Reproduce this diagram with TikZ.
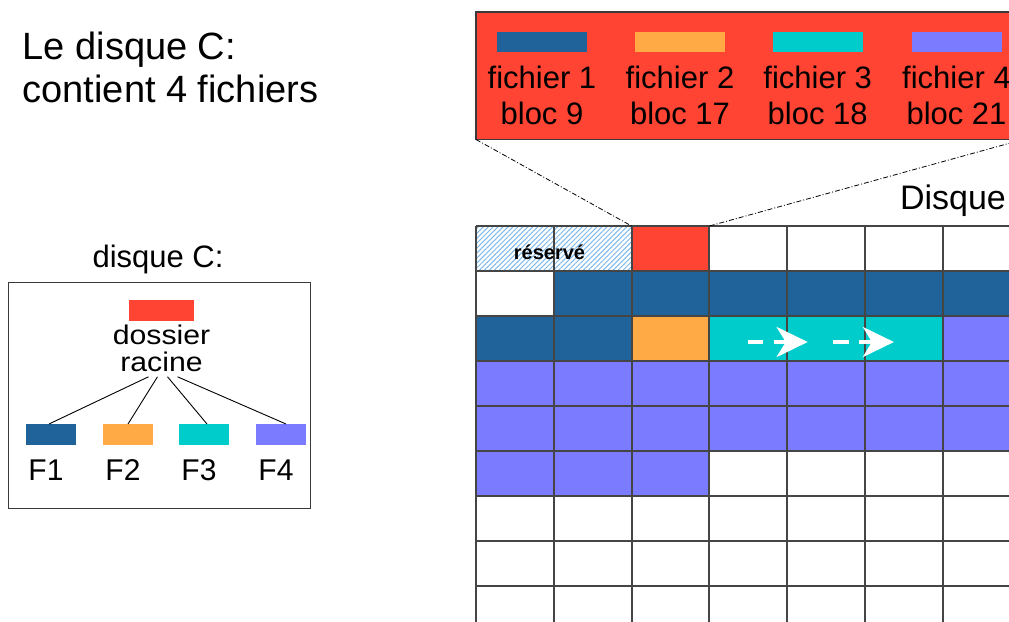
\documentclass[tikz,border=0pt]{standalone}
\usepackage{fontspec}
\setmainfont{Liberation Sans}
\newfontfamily\etire[FakeStretch=1.12]{Liberation Sans}
\usetikzlibrary{positioning,arrows.meta,patterns.meta}
\definecolor{rouge}{HTML}{FF4433}
\definecolor{bleuf}{HTML}{20639B}
\definecolor{orangef}{HTML}{FFAA44}
\definecolor{cyanf}{HTML}{00CCCC}
\definecolor{violetf}{HTML}{7B7BFF}
\definecolor{grille}{HTML}{454545}
\definecolor{cadre}{HTML}{3A3A3A}
\definecolor{hachure}{HTML}{7FB8EA}

\begin{document}
\begin{tikzpicture}[x=1pt,y=-1pt,
  every node/.style={inner sep=0pt,outer sep=0pt},
  bloc/.style={minimum width=77.8pt,minimum height=45pt,anchor=north west},
  trait/.style={grille,line width=1.9pt},
  reserve/.style={pattern={Lines[angle=45,distance=3.5pt,line width=1pt]},pattern color=hachure},
  racinebloc/.style={fill=rouge},
  vide/.style={fill=white},
  fic1/.style={fill=bleuf},
  fic2/.style={fill=orangef},
  fic3/.style={fill=cyanf},
  fic4/.style={fill=violetf},
  barre/.style={minimum width=90pt,minimum height=20pt},
  petitebarre/.style={minimum width=50pt,minimum height=21pt},
  legende/.style={align=center,font=\fontsize{31}{36}\selectfont},
  lien/.style={black,line width=0.9pt},
  zoomtrait/.style={black,line width=0.8pt,dash pattern=on 5pt off 2pt on 1pt off 2pt},
  fleche/.style={white,line width=4pt,dash pattern=on 15.5pt off 10.5pt,-{Stealth[length=31pt,width=30pt,inset=9pt]}}]
  \useasboundingbox (0,0) rectangle (1009,621);
  \clip (0,0) rectangle (1009,621);

  \node[anchor=north west,align=left,font=\fontsize{38}{42.7}\selectfont] (titre) at (22.7,32.3) {Le disque C:\\contient 4 fichiers};

  % arborescence du disque
  \node[anchor=base,font=\fontsize{31}{36}\selectfont] (nompanneau) at (158,267) {disque C:};
  \node[draw=cadre,line width=1.5pt,minimum width=302pt,minimum height=226pt,anchor=north west] (panneau) at (8.5,282.5) {};
  \node[minimum width=65pt,minimum height=20.5pt,fill=rouge] (rb) at (161.5,310.3) {};
  \node[align=center,font=\etire\fontsize{27}{26.7}\selectfont,below=4.7pt of rb] (rac) {dossier\\racine};
  \node[petitebarre,fill=bleuf] (f1) at (51,434.5) {};
  \node[petitebarre,fill=orangef] (f2) at (128,434.5) {};
  \node[petitebarre,fill=cyanf] (f3) at (204,434.5) {};
  \node[petitebarre,fill=violetf] (f4) at (281,434.5) {};
  \foreach \i in {1,...,4}
    \node[anchor=base,font=\fontsize{30}{36}\selectfont] (l\i) at ([shift={(-5,35.5)}]f\i.south) {F\i};
  \foreach \i/\dx/\ex in {1/-13/-2,2/-4/0,3/6/3,4/16/5}
    \draw[lien] ([shift={(\dx,5)}]rac.south) -- ([xshift=\ex pt]f\i.north);

  % blocs du disque
  \foreach \ligne [count=\li from 0] in {
      {reserve,reserve,racinebloc,vide,vide,vide,vide,vide},
      {vide,fic1,fic1,fic1,fic1,fic1,fic1,fic1},
      {fic1,fic1,fic2,fic3,fic3,fic3,fic4,fic4},
      {fic4,fic4,fic4,fic4,fic4,fic4,fic4,fic4},
      {fic4,fic4,fic4,fic4,fic4,fic4,fic4,fic4},
      {fic4,fic4,fic4,vide,vide,vide,vide,vide},
      {vide,vide,vide,vide,vide,vide,vide,vide},
      {vide,vide,vide,vide,vide,vide,vide,vide},
      {vide,vide,vide,vide,vide,vide,vide,vide}}
    \foreach \typ [count=\co from 0] in \ligne
      \node[bloc,\typ] (b\li-\co) at (476+77.8*\co,226+45*\li) {};
  \foreach \co in {0,...,8}
    \draw[trait] (476+77.8*\co,226) -- ++(0,405);
  \foreach \li in {0,...,9}
    \draw[trait] (476,226+45*\li) -- ++(630,0);
  \node[font=\bfseries\fontsize{20}{24}\selectfont] (res) at (549.5,252.7) {réservé};
  \node[anchor=base west,font=\fontsize{34}{40}\selectfont] (nomdisque) at (900,209) {Disque};

  \draw[fleche] ([shift={(-0.6,3.5)}]b2-3.center) -- ([shift={(-18.4,3.5)}]b2-4.center);
  \draw[fleche] ([shift={(7,3.5)}]b2-4.center) -- ([shift={(-10,3.5)}]b2-5.center);

  % contenu du dossier racine
  \node[draw=cadre,line width=1.5pt,fill=rouge,minimum width=547pt,minimum height=127.5pt,anchor=north west] (agrandi) at (476,12) {};
  \node[barre,fill=bleuf] (ba) at (542,42) {};
  \node[barre,fill=orangef] (bb) at (680,42) {};
  \node[barre,fill=cyanf] (bc) at (817.7,42) {};
  \node[barre,fill=violetf] (bd) at (956.5,42) {};
  \node[legende,below=13.6pt of ba] (ta) {fichier 1\\bloc 9};
  \node[legende,below=13.6pt of bb] (tb) {fichier 2\\bloc 17};
  \node[legende,below=13.6pt of bc] (tc) {fichier 3\\bloc 18};
  \node[legende,below=13.6pt of bd] (td) {fichier 4\\bloc 21};
  \draw[zoomtrait] (agrandi.south west) -- (b0-2.north west);
  \draw[zoomtrait] (agrandi.south east) -- (b0-2.north east);
\end{tikzpicture}
\end{document}
